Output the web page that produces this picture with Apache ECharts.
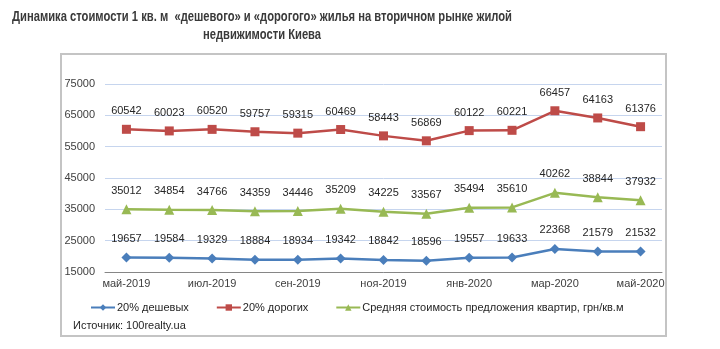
<!DOCTYPE html>
<html>
<head>
<meta charset="utf-8">
<script src="https://cdn.jsdelivr.net/npm/echarts@6/dist/echarts.min.js"></script>
<style>
  html, body { margin: 0; padding: 0; background: #fff; }
  #chart { width: 720px; height: 349px; }
</style>
</head>
<body>
<div id="chart"></div>
<script>
// Months on the horizontal axis
const months = ['май-2019', 'июн-2019', 'июл-2019', 'авг-2019', 'сен-2019', 'окт-2019', 'ноя-2019',
                'дек-2019', 'янв-2020', 'фев-2020', 'мар-2020', 'апр-2020', 'май-2020'];

// Price per square metre, UAH
const cheap20 = [19657, 19584, 19329, 18884, 18934, 19342, 18842, 18596, 19557, 19633, 22368, 21579, 21532];
const expensive20 = [60542, 60023, 60520, 59757, 59315, 60469, 58443, 56869, 60122, 60221, 66457, 64163, 61376];
const averageOffer = [35012, 34854, 34766, 34359, 34446, 35209, 34225, 33567, 35494, 35610, 40262, 38844, 37932];

const seriesNames = ['20% дешевых', '20% дорогих', 'Средняя стоимость предложения квартир, грн/кв.м'];

const chart = echarts.init(document.getElementById('chart'), null, { renderer: 'canvas' });

const FONT = 'Liberation Sans, Arial, sans-serif';

const labelStyle = {
  show: true,
  position: 'top',
  distance: 8,
  color: '#262626',
  fontSize: 11,
  fontFamily: FONT
};

function lineSeries(name, data, color, symbol, size) {
  return {
    name: name,
    type: 'line',
    data: data,
    symbol: symbol,
    symbolSize: size,
    lineStyle: { color: color, width: 2.5 },
    itemStyle: { color: color },
    label: labelStyle,
    emphasis: { disabled: true },
    animation: false
  };
}

chart.setOption({
  animation: false,
  backgroundColor: '#fff',
  graphic: [
    {
      type: 'rect',
      shape: { x: 61, y: 54, width: 605, height: 282 },
      style: { fill: 'none', stroke: '#c4c4c4', lineWidth: 2 },
      z: -1
    },
    {
      type: 'text',
      x: 262, y: 8,
      scaleX: 0.8,
      style: {
        text: 'Динамика стоимости 1 кв. м  «дешевого» и «дорогого» жилья на вторичном рынке жилой\nнедвижимости Киева',
        align: 'center',
        fill: '#3a3a3a',
        font: 'bold 14px "Liberation Sans", Arial, sans-serif',
        lineHeight: 18
      }
    },
    {
      type: 'text',
      x: 73, y: 320,
      style: {
        text: 'Источник: 100realty.ua',
        fill: '#262626',
        font: '11px "Liberation Sans", Arial, sans-serif'
      }
    }
  ],
  legend: {
    left: 85,
    top: 297,
    itemWidth: 24,
    itemHeight: 8,
    itemGap: 27,
    textStyle: { color: '#262626', fontSize: 11, fontFamily: FONT, padding: [0, 0, 0, -3] },
    data: seriesNames
  },
  grid: { left: 105, right: 58, top: 84, bottom: 77, containLabel: false },
  xAxis: {
    type: 'category',
    data: months,
    boundaryGap: true,
    axisLine: { lineStyle: { color: '#868686', width: 1 } },
    axisTick: { show: false },
    axisLabel: {
      interval: 1,
      color: '#404040',
      fontSize: 11,
      margin: 6,
      fontFamily: FONT
    }
  },
  yAxis: {
    type: 'value',
    min: 15000,
    max: 75000,
    interval: 10000,
    axisLine: { show: false },
    axisTick: { show: false },
    splitLine: { lineStyle: { color: '#c6d5ee', width: 1 } },
    axisLabel: {
      color: '#404040',
      fontSize: 11,
      margin: 10,
      fontFamily: FONT,
      formatter: function (v) { return String(v); }
    }
  },
  series: [
    lineSeries(seriesNames[0], cheap20, '#4a7ebb', 'diamond', 10),
    lineSeries(seriesNames[1], expensive20, '#be4b48', 'rect', 9),
    lineSeries(seriesNames[2], averageOffer, '#98b954', 'triangle', 10)
  ]
});
</script>
</body>
</html>
